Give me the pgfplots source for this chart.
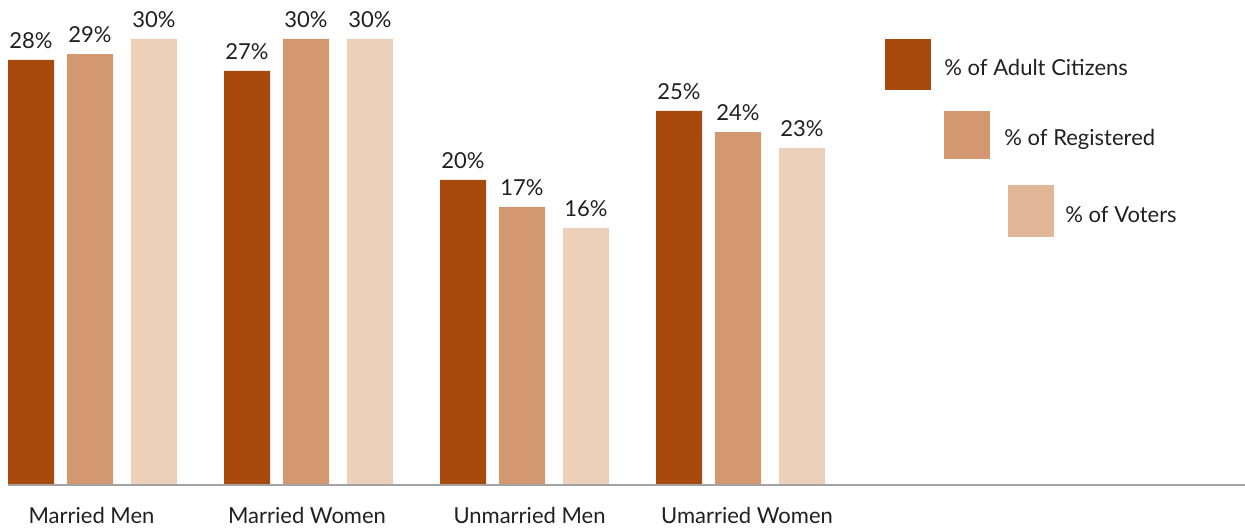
\documentclass[border=0pt]{standalone}
\usepackage{fontspec}
\setmainfont{Lato}
\usepackage{pgfplots}
\pgfplotsset{compat=1.18}
\definecolor{cDark}{HTML}{A84A0E}
\definecolor{cMed}{HTML}{D3986F}
\definecolor{cLight}{HTML}{ECD0B9}
\definecolor{cLeg}{HTML}{E1B697}
\definecolor{cText}{HTML}{231F20}
\definecolor{cAxis}{HTML}{A3A3A3}
\begin{document}
\begin{tikzpicture}
\begin{axis}[
  scale only axis,
  width=622.5pt, height=242.5pt,
  xmin=0, xmax=1245, ymin=0, ymax=32.623,
  hide y axis,
  axis x line*=bottom,
  x axis line style={draw=none},
  xtick={91.5,307,529.5,747},
  xticklabels={Married Men,Married Women,Unmarried Men,Umarried Women},
  xtick style={draw=none},
  major tick length=0pt,
  xticklabel style={anchor=base, yshift=-19pt, font=\fontsize{11}{13}\selectfont, text=cText},
  clip=false,
  every node near coord/.style={anchor=base, yshift=5.75pt, font=\fontsize{11}{13}\selectfont, text=cText},
  nodes near coords={\pgfplotspointmeta\%},
  point meta=explicit symbolic,
]
\addplot[ybar, bar width=23pt, fill=cDark, draw=none] table[meta=lab] {
x y lab
31 28.59 28
247 27.85 27
463 20.52 20
679 25.16 25
};
\addplot[ybar, bar width=23pt, fill=cMed, draw=none] table[meta=lab] {
x y lab
90 28.99 29
306 30.00 30
522 18.70 17
738 23.74 24
};
\addplot[ybar, bar width=23pt, fill=cLight, draw=none] table[meta=lab] {
x y lab
154 30.00 30
370 30.00 30
586 17.29 16
802 22.67 23
};
\draw[cAxis, line width=0.8pt] (axis cs:8,0) -- (axis cs:1245,0);
\end{axis}
\begin{scope}[x=0.5pt,y=0.5pt]
\fill[cDark] (885,395) rectangle (931,446);
\fill[cMed] (944,326) rectangle (990,374);
\fill[cLeg] (1008,248) rectangle (1054,300);
\node[anchor=base west, inner sep=0pt, text=cText, font=\fontsize{11}{13}\selectfont] at (944,409.3) {\% of Adult Citizens};
\node[anchor=base west, inner sep=0pt, text=cText, font=\fontsize{11}{13}\selectfont] at (1004,340) {\% of Registered};
\node[anchor=base west, inner sep=0pt, text=cText, font=\fontsize{11}{13}\selectfont] at (1065,262.3) {\% of Voters};
\end{scope}
\pgfresetboundingbox
\useasboundingbox (0,-23pt) rectangle (622.5pt,242.5pt);
\end{tikzpicture}
\end{document}
